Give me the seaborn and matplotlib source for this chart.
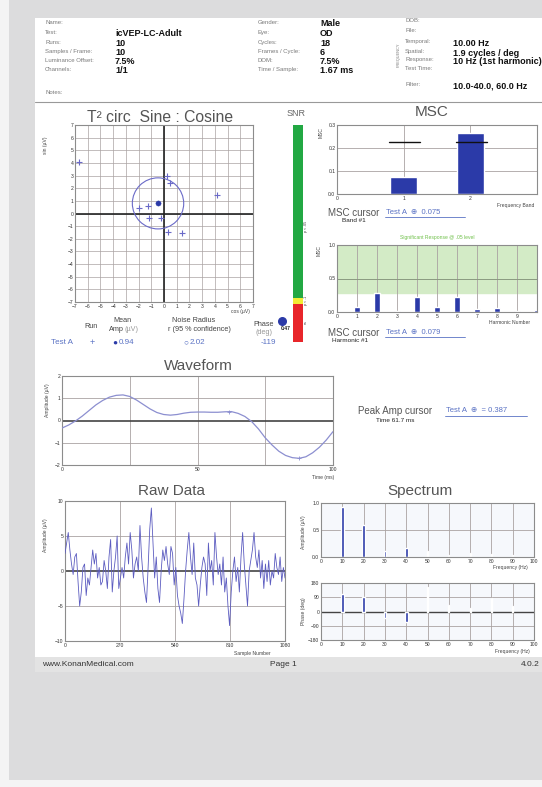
import numpy as np
import matplotlib.pyplot as plt
import seaborn as sns
from matplotlib.patches import Rectangle, Circle

sns.set_theme(style="white")
plt.rcParams['font.family'] = ['Liberation Sans', 'DejaVu Sans']

# ---------------- data ----------------
hdr1_labels = ["Name:", "Test:", "Runs:", "Samples / Frame:", "Luminance Offset:", "Channels:"]
hdr1_values = ["", "icVEP-LC-Adult", "10", "10", "7.5%", "1/1"]
hdr2_labels = ["Gender:", "Eye:", "Cycles:", "Frames / Cycle:", "DOM:", "Time / Sample:"]
hdr2_values = ["Male", "OD", "18", "6", "7.5%", "1.67 ms"]
hdr3_labels = ["DOB:", "File:", "Temporal:", "Spatial:", "Response:", "Test Time:", "Filter:"]
hdr3_values = ["", "", "10.00 Hz", "1.9 cycles / deg", "10 Hz (1st harmonic)", "", "10.0-40.0, 60.0 Hz"]

t2_cos = [-6.7, 0.26, 0.45, 4.13, -1.97, -1.26, -1.18, -0.26, 0.32, 1.45]
t2_sin = [4.1, 3.0, 2.45, 1.45, 0.4, 0.58, -0.39, -0.39, -1.45, -1.53]
t2_mean_cos, t2_mean_sin = -0.47, 0.80
noise_radius = 2.02

msc_band = [1, 2]
msc_band_vals = [0.075, 0.265]
msc_band_crit = [0.228, 0.228]

harm_num = [1, 2, 3, 4, 5, 6, 7, 8, 9, 10]
harm_msc = [0.079, 0.28, 0.01, 0.22, 0.08, 0.22, 0.04, 0.06, 0.02, 0.03]
harm_sig = 0.29

wave_t = [0, 2.5, 5, 7.5, 10, 12.5, 15, 17.5, 20, 22.5, 25, 27.5, 30, 32.5, 35, 37.5, 40,
          42.5, 45, 47.5, 50, 52.5, 55, 57.5, 60, 62.5, 65, 67.5, 70, 72.5, 75, 77.5, 80,
          82.5, 85, 87.5, 90, 92.5, 95, 97.5, 100]
wave_amp = [-0.34, -0.2, -0.02, 0.2, 0.45, 0.7, 0.9, 1.05, 1.13, 1.15, 1.08, 0.92, 0.72,
            0.52, 0.36, 0.27, 0.24, 0.27, 0.33, 0.37, 0.38, 0.38, 0.37, 0.37, 0.39, 0.40,
            0.32, 0.18, -0.05, -0.38, -0.78, -1.1, -1.38, -1.57, -1.67, -1.70, -1.63,
            -1.45, -1.2, -0.88, -0.5]
wave_marks_t = [61.7, 87.5]
wave_marks_amp = [0.40, -1.70]

raw_amp = [2.5, 4, 5.5, 3, 1, -0.5, 2, 2.5, -1.5, -5, -3, 0.5, 1, -3.5, -1, -2, 0.5, 3, 1,
           2.5, -1, 0.5, -2, -1.5, 1.5, 0, -2.5, 2, 4.5, -3, 0, 2, 5, -2.5, -1, 0.5, -1, 2,
           4, 1, 5.5, 3, -1, 1, 2, 0, 6.5, 2, -1, -3, -4.5, 0.5, 6, 9, 4, -1, 2, -2.5, -4.5,
           0, 3, 1.5, 3.5, 1, -0.5, 3.5, 2.5, -2, 0.5, -3.5, -5, -6, -7.5, -4, 0, 3, 5.5, 2,
           -0.5, 4, -1, -2, -5, -2, 0.5, 2, 1, -3.5, 4, 0, 1.5, -2, 5.5, 2, -0.5, 1, -2, 2,
           -3, -1, -5, -7.8, -3, 0, 2, -1.5, 0.5, -3, 2, 5.5, 1, -2, -5, 0, 1.5, 3, 5.5, 2,
           0.5, 3, -1, 1.5, -2.5, 1, -1.5, 1.5, -2, 0, -1, 2.5, 0.5, -0.5, 2, -1.5, 0.5, -1]
raw_n = list(range(0, 8 * len(raw_amp), 8))

spec_freq = [10, 20, 30, 40, 50, 60, 70, 80, 90]
spec_amp = [0.93, 0.60, 0.12, 0.16, 0.12, 0.03, 0.08, 0.06, 0.03]
spec_phase = [110, 89, -38, -68, 152, 38, 25, 85, 36]
spec_main = [True, True, True, True, False, False, False, False, False]

# ---------------- figure ----------------
W, H = 542, 787
fig = plt.figure(figsize=(W / 100, H / 100), dpi=100)
fig.patch.set_facecolor('#f4f4f4')

bg = fig.add_axes([0, 0, 1, 1])
bg.set_xlim(0, W)
bg.set_ylim(H, 0)
bg.axis('off')
bg.set_zorder(-5)
bg.add_patch(Rectangle((9, 0), W - 9, 780, color='#dcdcdd', lw=0))
bg.add_patch(Rectangle((35, 18), W - 35, 654, color='white', lw=0))
bg.add_patch(Rectangle((35, 657), W - 35, 15, color='#e3e3e3', lw=0))
bg.plot([35, W], [102, 102], color='#999', lw=0.8)

GRID = '#aaa2a2'
BLUE = '#2b3aa8'
LBLUE = '#6a6ac8'
LINK = '#5a72c4'


def px_axes(left, top, width, height):
    return fig.add_axes([left / W, 1 - (top + height) / H, width / W, height / H])


def txt(x, y, s, size=5, color='#333', **kw):
    kw.setdefault('va', 'center')
    bg.text(x, y, s, fontsize=size, color=color, **kw)


def style(ax, face='white'):
    ax.set_facecolor(face)
    for sp in ax.spines.values():
        sp.set_color('#8c8c8c')
        sp.set_linewidth(0.8)
    ax.tick_params(length=0, labelsize=3.6, colors='#333', pad=1.2)
    ax.set_xlabel('')
    ax.set_ylabel('')


def vgrid(ax, xs):
    for v in xs:
        ax.axvline(v, color=GRID, lw=0.6, zorder=0.5)


def hgrid(ax, ys):
    for v in ys:
        ax.axhline(v, color=GRID, lw=0.6, zorder=0.5)


# ---------------- header ----------------
rows12 = [22, 32.5, 42.5, 51.5, 60.5, 69.5]
for lab, val, y in zip(hdr1_labels, hdr1_values, rows12):
    txt(45, y, lab, 4.3, '#7a7a7a')
    txt(115, y + 1, val, 6.5, '#111', fontweight='bold')
txt(45, 92, "Notes:", 4.3, '#7a7a7a')
for lab, val, y in zip(hdr2_labels, hdr2_values, rows12):
    txt(258, y, lab, 4.3, '#7a7a7a')
    txt(320, y + 1, val, 6.5, '#111', fontweight='bold')
rows3 = [21, 31, 42, 51, 60, 69, 84]
for lab, val, y in zip(hdr3_labels, hdr3_values, rows3):
    txt(405, y, lab, 4.3, '#7a7a7a')
    txt(453, y + 2, val, 6.5, '#111', fontweight='bold')
txt(399, 55, "FREQUENCY", 2.8, '#777', rotation=90, ha='center')

# ---------------- T2 circ ----------------
txt(160, 117, "T² circ  Sine : Cosine", 11.3, '#555', ha='center')
ax = px_axes(75, 125, 178, 177)
style(ax)
for v in range(-7, 8):
    ax.axvline(v, color=GRID, lw=0.5, zorder=0.5)
    ax.axhline(v, color=GRID, lw=0.5, zorder=0.5)
ax.axvline(0, color='#222', lw=1.2, zorder=1)
ax.axhline(0, color='#222', lw=1.2, zorder=1)
sns.scatterplot(x=t2_cos, y=t2_sin, ax=ax, marker='+', s=14, color=LBLUE,
                linewidth=0.8, zorder=3)
sns.scatterplot(x=[t2_mean_cos], y=[t2_mean_sin], ax=ax, marker='o', s=14,
                color=BLUE, edgecolor=BLUE, zorder=4)
ax.add_patch(Circle((t2_mean_cos, t2_mean_sin), noise_radius, fill=False,
                    ec=LBLUE, lw=0.8, zorder=3))
ax.set_xlim(-7, 7)
ax.set_ylim(-7, 7)
ax.set_xticks(range(-7, 8))
ax.set_yticks(range(-7, 8))
ax.set_xlabel('')
ax.set_ylabel('')
txt(46, 145, "sin (µV)", 3.6, '#444', rotation=90, ha='center')
txt(240, 311, "cos (µV)", 3.6, '#444', ha='center')

txt(91, 326, "Run", 5.2, '#444', ha='center')
txt(122, 321, "Mean", 5.2, '#444', ha='center')
txt(124, 329.5, "Amp", 5.2, '#444', ha='right')
txt(124.5, 329.5, "(µV)", 5.2, '#999', ha='left')
txt(194, 321, "Noise Radius", 5.2, '#444', ha='center')
txt(199, 329.5, "r (95 % confidence)", 5.2, '#444', ha='center')
txt(264, 325, "Phase", 5.2, '#444', ha='center')
txt(264, 333, "(deg)", 5.2, '#999', ha='center')
txt(62, 343, "Test A", 5.8, LINK, ha='center')
txt(92, 343, "+", 6.5, LINK, ha='center')
txt(112, 343, "●", 6, BLUE, ha='left')
txt(119, 343, "0.94", 5.8, LINK, ha='left')
txt(183, 343, "○", 6, LINK, ha='left')
txt(190, 343, "2.02", 5.8, LINK, ha='left')
txt(268, 343, "-119", 5.8, LINK, ha='center')

# ---------------- SNR bar ----------------
txt(296, 114, "SNR", 6.5, '#666', ha='center')
snr_levels = [0.0, 0.175, 0.203, 1.0]
snr_colors = ['#e8262a', '#f2ec34', '#22a843']
sax = px_axes(293, 125, 10, 217)
sax.axis('off')
for lo, hi, c in zip(snr_levels[:-1], snr_levels[1:], snr_colors):
    sax.bar([0], [hi - lo], bottom=[lo], width=1.0, color=c, lw=0)
sax.set_xlim(-0.5, 0.5)
sax.set_ylim(0, 1)
bg.scatter([282], [321], s=30, color=BLUE, zorder=5)
txt(285.5, 328, "0.47", 3.6, '#222', ha='center', fontweight='bold')
txt(306, 226, "p < .05", 2.6, '#333', rotation=90, ha='center')
txt(306, 300, "p < .1", 2.6, '#333', rotation=90, ha='center')
txt(306, 322, "ns", 2.6, '#333', rotation=90, ha='center')

# ---------------- MSC band ----------------
txt(432, 112, "MSC", 11, '#555', ha='center')
ax = px_axes(337, 125, 200, 69)
style(ax)
vgrid(ax, [1, 2])
hgrid(ax, [0.1, 0.2])
ax.bar(msc_band, msc_band_vals, width=0.4, color=BLUE, zorder=2)
for b, c in zip(msc_band, msc_band_crit):
    ax.plot([b - 0.22, b + 0.25], [c, c], color='#111', lw=1.0, zorder=3)
ax.set_xlim(0, 3)
ax.set_ylim(0, 0.3)
ax.set_xticks([0, 1, 2])
ax.set_yticks([0, 0.1, 0.2, 0.3])
ax.set_yticklabels(['0.0', '0.1', '0.2', '0.3'])
txt(321, 133, "MSC", 3.6, '#444', rotation=90, ha='center')
txt(516, 205, "Frequency Band", 3.6, '#444', ha='center')
txt(328, 213, "MSC cursor", 7, '#555', ha='left')
txt(386, 212, "Test A  ⊕  0.075", 5.5, LINK, ha='left')
bg.plot([385, 465], [217, 217], color=LINK, lw=0.6)
txt(342, 221, "Band #1", 4.6, '#222', ha='left')

# ---------------- MSC harmonics ----------------
ax = px_axes(337, 245, 200, 67)
style(ax)
ax.axhspan(harm_sig, 1.0, color='#d3ebc6', zorder=0.3)
vgrid(ax, range(1, 10))
ax.axhline(0.5, color='#8a9a80', lw=0.7, zorder=0.5)
ax.bar(harm_num, harm_msc, width=0.28, color=BLUE, zorder=2)
ax.set_xlim(0, 10)
ax.set_ylim(0, 1.0)
ax.set_xticks(range(0, 10))
ax.set_yticks([0, 0.5, 1.0])
ax.set_yticklabels(['0.0', '0.5', '1.0'])
txt(437, 237, "Significant Response @ .05 level", 3.6, '#6fc04a', ha='center')
txt(319, 250, "MSC", 3.6, '#444', rotation=90, ha='center')
txt(510, 322, "Harmonic Number", 3.6, '#444', ha='center')
txt(328, 333, "MSC cursor", 7, '#555', ha='left')
txt(386, 332, "Test A  ⊕  0.079", 5.5, LINK, ha='left')
bg.plot([385, 465], [337, 337], color=LINK, lw=0.6)
txt(332, 341, "Harmonic #1", 4.6, '#222', ha='left')

# ---------------- waveform ----------------
txt(198, 366, "Waveform", 11, '#555', ha='center')
ax = px_axes(62, 376, 271, 89)
style(ax)
vgrid(ax, [25, 50, 75])
hgrid(ax, [-1, 1])
ax.axhline(0, color='#444', lw=1.2, zorder=1)
sns.lineplot(x=wave_t, y=wave_amp, ax=ax, color='#8c8fd0', lw=0.9, zorder=3)
sns.scatterplot(x=wave_marks_t, y=wave_marks_amp, ax=ax, marker='+', s=10,
                color='#8c8fd0', linewidth=0.6, zorder=4)
ax.set_xlim(0, 100)
ax.set_ylim(-2, 2)
ax.set_xticks([0, 50, 100])
ax.set_yticks([-2, -1, 0, 1, 2])
ax.set_xlabel('')
ax.set_ylabel('')
txt(47, 400, "Amplitude (µV)", 3.6, '#444', rotation=90, ha='center')
txt(323, 477, "Time (ms)", 3.6, '#444', ha='center')
txt(395, 411, "Peak Amp cursor", 7, '#555', ha='center')
txt(446, 411, "Test A  ⊕  = 0.387", 5.5, LINK, ha='left')
bg.plot([445, 527], [416, 416], color=LINK, lw=0.6)
txt(395, 420, "Time 61.7 ms", 4.6, '#222', ha='center')

# ---------------- raw data ----------------
txt(172, 491, "Raw Data", 11, '#555', ha='center')
ax = px_axes(65, 501, 220, 140)
style(ax)
vgrid(ax, [270, 540, 810])
hgrid(ax, [-5, 5])
ax.axhline(0, color='#444', lw=1.2, zorder=1)
sns.lineplot(x=raw_n, y=raw_amp, ax=ax, color='#5c5cc0', lw=0.6, zorder=3)
ax.set_xlim(0, 1080)
ax.set_ylim(-10, 10)
ax.set_xticks([0, 270, 540, 810, 1080])
ax.set_yticks([-10, -5, 0, 5, 10])
ax.set_xlabel('')
ax.set_ylabel('')
txt(46, 535, "Amplitude (µV)", 3.6, '#444', rotation=90, ha='center')
txt(252, 653, "Sample Number", 3.6, '#444', ha='center')

# ---------------- spectrum ----------------
txt(420, 491, "Spectrum", 11, '#555', ha='center')
main_c = [BLUE if m else '#7c7c7c' for m in spec_main]
main_w = [1.3 if m else 0.5 for m in spec_main]

ax = px_axes(321, 503, 213, 54)
style(ax, '#f6f8fc')
vgrid(ax, range(10, 100, 10))
hgrid(ax, [0.5])
ax.bar(spec_freq, spec_amp, width=main_w, color=main_c, zorder=2)
ax.set_xlim(0, 100)
ax.set_ylim(0, 1.0)
ax.set_xticks(range(0, 101, 10))
ax.set_yticks([0, 0.5, 1.0])
ax.set_yticklabels(['0.0', '0.5', '1.0'])
txt(304, 532, "Amplitude (µV)", 3.6, '#444', rotation=90, ha='center')
txt(510, 567.5, "Frequency (Hz)", 3.6, '#444', ha='center')

ax = px_axes(321, 583, 213, 57)
style(ax, '#f6f8fc')
vgrid(ax, range(10, 100, 10))
hgrid(ax, [-90, 90])
ax.axhline(0, color='#444', lw=1.0, zorder=1)
ax.bar(spec_freq, spec_phase, width=main_w, color=main_c, zorder=2)
ax.set_xlim(0, 100)
ax.set_ylim(-180, 180)
ax.set_xticks(range(0, 101, 10))
ax.set_yticks([-180, -90, 0, 90, 180])
txt(304, 611, "Phase (deg)", 3.6, '#444', rotation=90, ha='center')
txt(512, 651.5, "Frequency (Hz)", 3.6, '#444', ha='center')

# ---------------- footer ----------------
txt(42, 664, "www.KonanMedical.com", 6, '#333', ha='left')
txt(283, 664, "Page 1", 6, '#333', ha='center')
txt(540, 664, "4.0.2", 6, '#333', ha='right')

fig.savefig("out.png", dpi=100, facecolor=fig.get_facecolor())
